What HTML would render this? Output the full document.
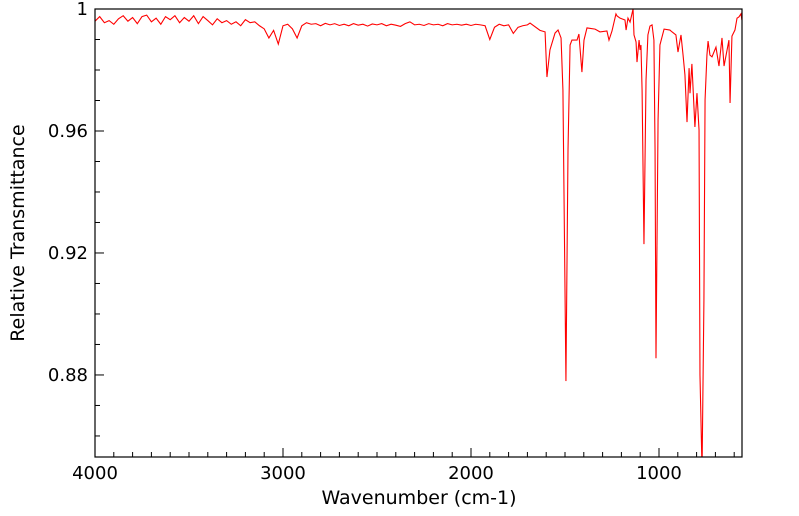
<!DOCTYPE html>
<html><head><meta charset="utf-8">
<style>
html,body{margin:0;padding:0;background:#fff;}
svg{display:block;font-family:"DejaVu Sans","Liberation Sans",sans-serif;}
</style></head>
<body>
<svg id="chart" width="799" height="516" viewBox="0 0 799 516" xmlns="http://www.w3.org/2000/svg">
<defs><clipPath id="plotclip"><rect x="95" y="9" width="647" height="448"/></clipPath></defs>
<g id="ticks"></g>
<g id="labels"></g>
<path id="series" fill="none" stroke="#ff0000" stroke-width="1.1" clip-path="url(#plotclip)"/>
<rect x="95" y="9" width="647" height="448" fill="none" stroke="#000" stroke-width="1.2"/>
<text x="419" y="504" font-size="19" text-anchor="middle">Wavenumber (cm-1)</text>
<text x="24" y="233" font-size="19" text-anchor="middle" transform="rotate(-90 24 233)">Relative Transmittance</text>
</svg>
<script>
const xTicks = [4000, 3000, 2000, 1000];
const yTicks = [1, 0.96, 0.92, 0.88];
const yTickLabels = ["1", "0.96", "0.92", "0.88"];
const wavenumbers = [4000,3975,3950,3925,3900,3875,3850,3825,3800,3775,3750,3725,3700,3675,3650,3625,3600,3575,3550,3525,3500,3475,3450,3425,3400,3375,3350,3325,3300,3275,3250,3225,3200,3175,3150,3125,3100,3075,3050,3025,3000,2975,2950,2925,2900,2875,2850,2825,2800,2775,2750,2725,2700,2675,2650,2625,2600,2575,2550,2525,2500,2475,2450,2425,2400,2375,2350,2325,2300,2275,2250,2225,2200,2175,2150,2125,2100,2075,2050,2025,2000,1975,1950,1925,1900,1875,1850,1825,1800,1775,1750,1725,1700,
1686,1633,1606,1596,1580,1553,1537,1521,1511,1495,1484,1473,1463,1436,1426,1410,1399,1383,1340,1314,1277,1266,1250,1229,1223,1207,1181,1175,1165,1154,1138,1133,1122,1117,1106,1101,1096,1090,1080,1069,1059,1048,1037,1027,1021,1016,1005,995,973,942,931,910,899,883,872,862,851,840,835,825,809,798,787,782,771,761,755,745,739,729,718,697,681,665,654,628,622,612,596,585,575,564,559];
const transmittance = [.9960,.9975,.9955,.9962,.9950,.9968,.9978,.9960,.9972,.9952,.9975,.9980,.9958,.9970,.9950,.9975,.9965,.9978,.9955,.9972,.9960,.9978,.9952,.9975,.9962,.9948,.9968,.9955,.9962,.9950,.9958,.9945,.9965,.9955,.9958,.9945,.9935,.9905,.9930,.9885,.9945,.9950,.9935,.9905,.9945,.9955,.9950,.9952,.9945,.9953,.9948,.9952,.9946,.9950,.9945,.9952,.9947,.9950,.9944,.9951,.9948,.9952,.9945,.9950,.9947,.9943,.9952,.9958,.9948,.9950,.9946,.9952,.9948,.9950,.9945,.9952,.9948,.9950,.9947,.9950,.9946,.9950,.9948,.9945,.9900,.9940,.9950,.9945,.9948,.9920,.9940,.9945,.9948,
.9954,.9930,.9925,.9777,.9866,.9921,.9931,.9905,.9734,.8780,.9538,.9882,.9898,.9898,.9918,.9793,.9898,.9938,.9934,.9925,.9928,.9898,.9928,.9984,.9977,.9970,.9964,.9931,.9970,.9957,1.0,.9915,.9892,.9826,.9898,.9866,.9882,.9734,.9229,.9767,.9915,.9944,.9948,.9898,.9538,.8855,.9636,.9882,.9934,.9931,.9925,.9915,.9859,.9915,.9849,.9784,.9629,.9806,.9724,.9820,.9613,.9724,.9603,.8800,.8488,.9046,.9702,.9849,.9895,.9849,.9843,.9875,.9813,.9905,.9813,.9898,.9692,.9911,.9931,.9970,.9974,.9984,.9964];

const X0=95, X1=742, Y0=9, Y1=457;
const WN_MAX=4000, WN_MIN=558.5, T_MAX=1, T_MIN=0.8531;
function xScale(w){return X0+(WN_MAX-w)/(WN_MAX-WN_MIN)*(X1-X0);}
function yScale(t){return Y0+(T_MAX-t)/(T_MAX-T_MIN)*(Y1-Y0);}
const NS="http://www.w3.org/2000/svg";
const ticks=document.getElementById('ticks');
const labels=document.getElementById('labels');
function line(x1,y1,x2,y2,name){
  const l=document.createElementNS(NS,'line');
  l.setAttribute('x1',x1);l.setAttribute('y1',y1);l.setAttribute('x2',x2);l.setAttribute('y2',y2);
  l.setAttribute('stroke','#000');l.setAttribute('stroke-width','1');
  
  
  ticks.appendChild(l);
}
for(let w=4000; w>=WN_MIN; w-=100){
  const x=xScale(w), major=(w%1000===0);
  line(x,Y1,x,Y1-(major?9:5),major?'x-major-tick':'x-minor-tick');
}
for(let k=0;k<=15;k++){
  const t=1-k*0.01; if(t<T_MIN) break;
  const y=yScale(t), major=(k%4===0);
  line(X0,y,X0+(major?9:5),y,major?'y-major-tick':'y-minor-tick');
}
xTicks.forEach(w=>{
  const t=document.createElementNS(NS,'text');
  t.setAttribute('x',xScale(w));t.setAttribute('y',Y1+22);
  t.setAttribute('font-size','18');t.setAttribute('text-anchor','middle');
  t.textContent=String(w);
  
  
  labels.appendChild(t);
});
yTicks.forEach((v,i)=>{
  const t=document.createElementNS(NS,'text');
  t.setAttribute('x',X0-7);t.setAttribute('y',yScale(v)+6);
  t.setAttribute('font-size','18');t.setAttribute('text-anchor','end');
  t.textContent=yTickLabels[i];
  
  
  labels.appendChild(t);
});
let d='';
wavenumbers.forEach((w,i)=>{d+=(i?'L':'M')+xScale(w).toFixed(2)+','+yScale(transmittance[i]).toFixed(2);});
document.getElementById('series').setAttribute('d',d);
</script>
</body></html>
